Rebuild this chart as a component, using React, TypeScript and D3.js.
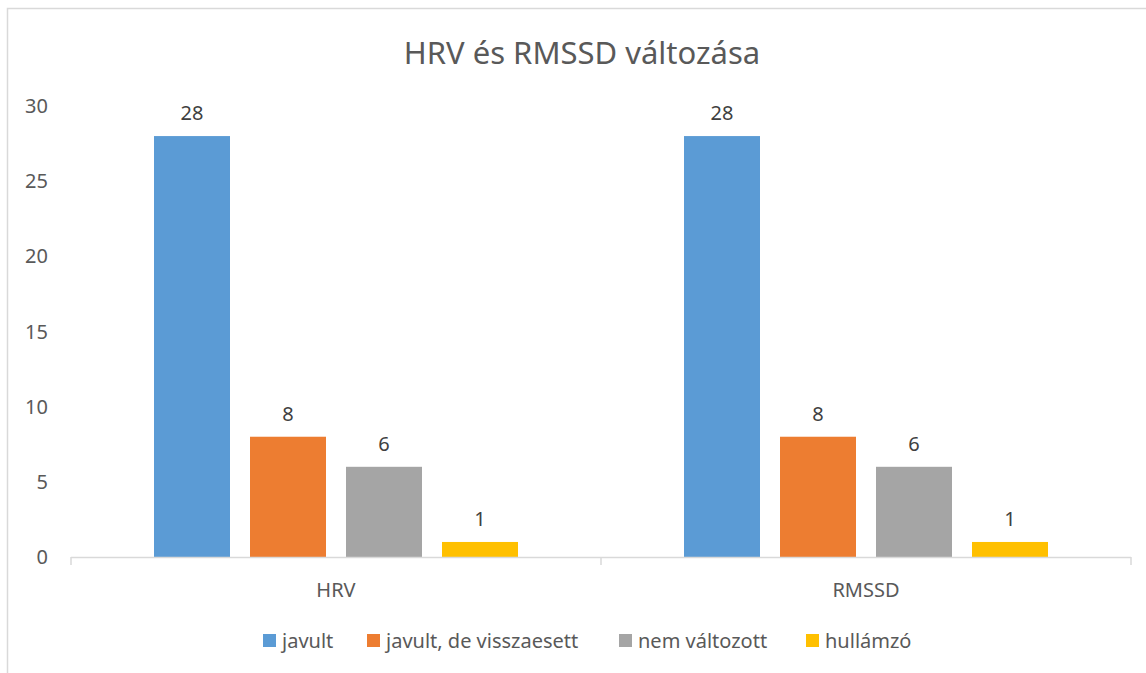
import { useEffect, useRef } from "react"
import * as d3 from "d3"

const categories = ["HRV", "RMSSD"]
const seriesNames = ["javult", "javult, de visszaesett", "nem változott", "hullámzó"]
const seriesColors = ["#5b9bd5", "#ed7d31", "#a5a5a5", "#ffc000"]
const javult = [28, 28]
const javultDeVisszaesett = [8, 8]
const nemValtozott = [6, 6]
const hullamzo = [1, 1]
const yTicks = [0, 5, 10, 15, 20, 25, 30]
const title = "HRV és RMSSD változása"

const seriesValues = [javult, javultDeVisszaesett, nemValtozott, hullamzo]

export default function App() {
  const svgRef = useRef<SVGSVGElement>(null)
  const width = 1146
  const height = 673

  useEffect(() => {
    if (!svgRef.current) return
    const svg = d3.select(svgRef.current)
    svg.selectAll("*").remove()

    const font = "'Noto Sans', sans-serif"
    const fs = 20
    const left = 71, right = 1131, top = 106, bottom = 557

    // chart frame
    svg.append("rect")
      .attr("x", 7.5).attr("y", 8.5)
      .attr("width", 1160).attr("height", 690)
      .attr("fill", "white").attr("stroke", "#d9d9d9").attr("stroke-width", 1.5)

    svg.append("text")
      .attr("x", 582).attr("y", 64)
      .attr("text-anchor", "middle")
      .attr("font-family", font).attr("font-size", 31)
      .attr("fill", "#595959")
      .text(title)

    const x0 = d3.scaleBand().domain(categories).range([left, right])
    const x1 = d3.scaleBand().domain(seriesNames)
      .range([83, x0.bandwidth() - 83]).paddingInner(20 / 96)
    const y = d3.scaleLinear().domain([0, 30]).range([bottom, top])

    // y tick labels
    svg.append("g").selectAll("text").data(yTicks).enter()
      .append("text")
      .attr("x", 48).attr("y", d => y(d) + 7)
      .attr("text-anchor", "end")
      .attr("font-family", font).attr("font-size", fs)
      .attr("fill", "#595959")
      .text(d => d)

    // bars
    const groups = svg.append("g").selectAll("g").data(seriesNames).enter()
      .append("g")
    groups.each(function (name, si) {
      const g = d3.select(this)
      const vals = seriesValues[si]
      g.selectAll("rect").data(categories).enter()
        .append("rect")
        .attr("x", (c) => (x0(c) as number) + (x1(name) as number))
        .attr("y", (_c, i) => y(vals[i]))
        .attr("width", x1.bandwidth())
        .attr("height", (_c, i) => bottom - y(vals[i]))
        .attr("fill", seriesColors[si])
      g.selectAll("text").data(categories).enter()
        .append("text")
        .attr("x", (c) => (x0(c) as number) + (x1(name) as number) + x1.bandwidth() / 2)
        .attr("y", (_c, i) => y(vals[i]) - 16)
        .attr("text-anchor", "middle")
        .attr("font-family", font).attr("font-size", fs)
        .attr("fill", "#404040")
        .text((_c, i) => vals[i])
    })

    // x axis
    svg.append("line")
      .attr("x1", left).attr("x2", right).attr("y1", bottom + 0.5).attr("y2", bottom + 0.5)
      .attr("stroke", "#d9d9d9").attr("stroke-width", 1.5)
    const tickXs = [left, ...categories.map(c => (x0(c) as number) + x0.bandwidth())]
    svg.append("g").selectAll("line").data(tickXs).enter()
      .append("line")
      .attr("x1", d => d).attr("x2", d => d)
      .attr("y1", bottom).attr("y2", bottom + 8)
      .attr("stroke", "#d9d9d9").attr("stroke-width", 1.5)
    svg.append("g").selectAll("text").data(categories).enter()
      .append("text")
      .attr("x", c => (x0(c) as number) + x0.bandwidth() / 2)
      .attr("y", 597)
      .attr("text-anchor", "middle")
      .attr("font-family", font).attr("font-size", fs)
      .attr("fill", "#595959")
      .text(c => c)

    // legend
    const legendX = [263, 367, 619, 806]
    const legend = svg.append("g").selectAll("g").data(seriesNames).enter()
      .append("g")
      .attr("transform", (_d, i) => `translate(${legendX[i]}, 641)`)
    legend.append("rect")
      .attr("x", 0).attr("y", -7).attr("width", 13).attr("height", 13)
      .attr("fill", (_d, i) => seriesColors[i])
    legend.append("text")
      .attr("x", 19).attr("y", 7)
      .attr("font-family", font).attr("font-size", fs)
      .attr("fill", "#595959")
      .text(d => d)
  }, [])

  return (
    <svg
      ref={svgRef}
      width={width}
      height={height}
      style={{ position: "absolute", left: 0, top: 0 }}
      xmlns="http://www.w3.org/2000/svg"
    ></svg>
  )
}
